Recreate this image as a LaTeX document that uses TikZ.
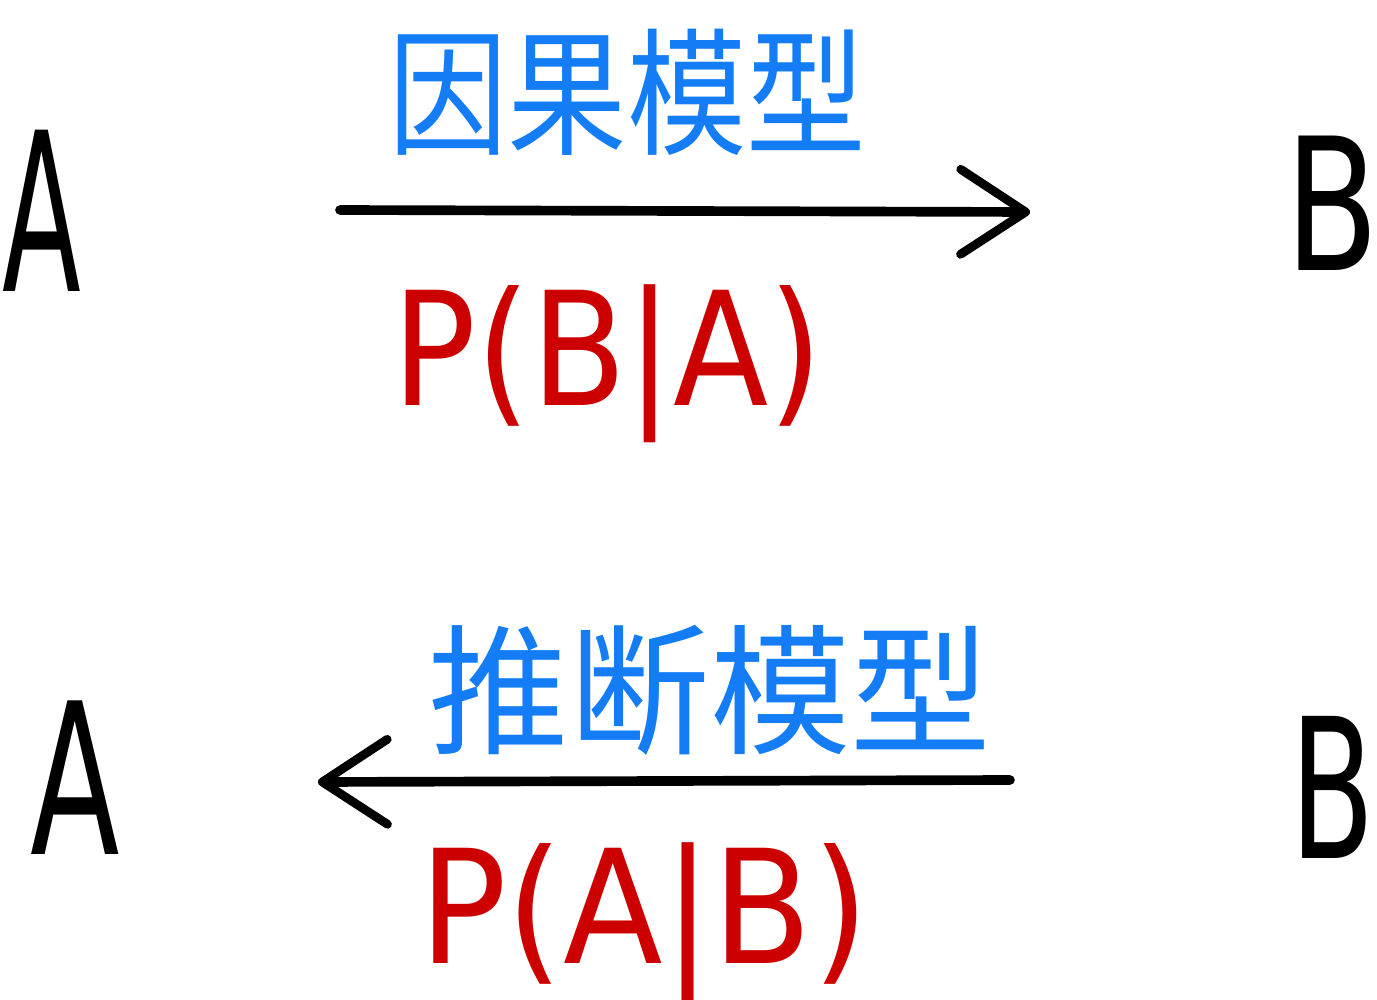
\documentclass[tikz,border=0pt]{standalone}
\usepackage{fontspec}
\setmainfont{DejaVu Sans}
\newfontfamily\cjk{Noto Sans CJK SC}
\usetikzlibrary{arrows.meta,positioning}
\definecolor{kek}{RGB}{20,125,245}
\definecolor{piros}{RGB}{205,0,0}
\newcommand{\keskeny}[2]{\scalebox{#1}[1]{#2}}
\tikzset{
  betu/.style={inner sep=0pt,font=\fontsize{126}{126}\selectfont},
  modell/.style={inner sep=0pt,text=kek,font=\cjk\fontsize{68}{68}\selectfont},
  valo/.style={inner sep=0pt,text=piros,font=\fontsize{90}{90}\selectfont},
  nyil/.style={line width=5.5pt,line cap=round,
    -{Straight Barb[length=13mm,width=17mm,line width=5pt,round]}},
}

\begin{document}
\begin{tikzpicture}[x=0.02cm,y=-0.02cm]
  \useasboundingbox (0,0) rectangle (1377,1000);
  % felso sor
  \node[betu] (a1) at (42,211) {\keskeny{0.52}{A}};
  \node[betu,font=\fontsize{105}{105}\selectfont] (b1) at (1332,203) {\keskeny{0.74}{B}};
  \coordinate (k1) at (340,210);
  \coordinate (v1) at (1030,212);
  \draw[nyil] (k1) -- (v1);
  \node[modell,yscale=1.15] (m1) at (627,92) {因果模型};
  \node[valo] (p1) at (608,364) {\keskeny{0.88}{P(B|A)}};
  % also sor
  \node[betu,font=\fontsize{120}{120}\selectfont] (a2) at (75,778) {\keskeny{0.62}{A}};
  \node[betu,font=\fontsize{111}{111}\selectfont] (b2) at (1333,787) {\keskeny{0.63}{B}};
  \coordinate (k2) at (1010,780);
  \coordinate (v2) at (318,782);
  \draw[nyil] (k2) -- (v2);
  \node[modell,font=\cjk\fontsize{80}{80}\selectfont] (m2) at (710,690) {推断模型};
  \node[valo] (p2) at (644,922) {\keskeny{0.92}{P(A|B)}};
\end{tikzpicture}
\end{document}
